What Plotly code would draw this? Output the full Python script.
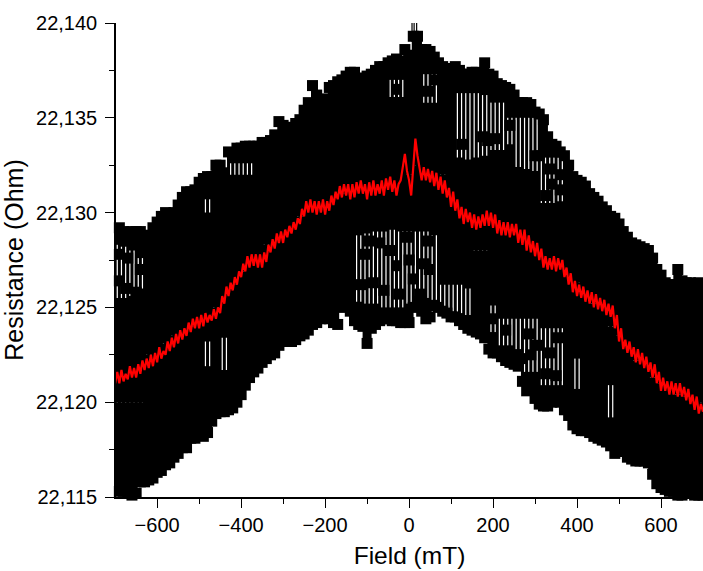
import plotly.graph_objects as go

BASE = 22000
field_grid = list(range(-700, 701, 10))
upper = [129.2,129.2,129.0,128.8,129.0,129.0,129.0,128.8,128.8,129.2,129.5,129.8,130.0,129.6,130.0,130.4,130.8,131.1,131.1,131.2,
131.6,131.8,131.9,131.9,132.5,132.5,132.1,133.2,133.0,133.4,133.4,133.5,133.5,133.5,133.5,133.7,133.7,133.8,134.1,134.8,
134.6,134.5,134.4,134.7,134.9,135.4,135.8,136.7,136.2,135.9,136.0,136.6,136.7,136.9,137.0,137.2,137.4,137.4,137.0,137.1,
137.2,137.3,137.5,137.7,137.7,137.9,138.0,138.1,138.0,138.6,138.3,139.3,139.3,138.6,138.6,138.5,138.2,137.9,137.7,137.6,
137.6,137.7,137.5,137.3,137.3,137.4,137.4,137.2,137.9,137.3,137.2,136.8,136.7,136.6,136.5,136.2,135.8,135.8,135.8,135.7,
135.3,135.2,134.9,134.0,133.6,133.5,133.2,133.0,132.5,131.9,131.7,131.6,131.4,131.0,130.8,130.6,130.3,130.1,129.8,129.7,
129.4,129.0,128.7,128.4,128.3,128.2,128.1,128.0,127.6,127.0,126.7,126.3,126.2,126.2,127.0,126.4,126.3,126.3,126.1,126.3,126.2]
lower = [115.4,115.3,115.3,115.2,115.1,115.2,115.8,115.8,115.9,116.0,116.3,116.4,116.7,116.8,117.1,117.3,117.6,117.6,118.1,118.1,
118.3,118.2,118.4,119.0,119.4,119.5,119.5,119.6,119.7,120.0,120.4,120.9,121.3,121.6,121.8,122.1,122.3,122.5,122.6,123.0,
123.2,123.2,123.2,123.3,123.5,123.6,123.8,124.1,124.2,124.4,124.6,124.4,124.2,124.1,125.0,125.1,124.8,124.3,124.1,124.0,
123.1,123.9,124.1,124.3,124.4,124.4,124.3,124.3,124.2,124.2,124.2,125.0,125.2,124.8,124.4,124.5,125.1,125.0,124.8,124.7,
124.5,124.5,124.3,124.1,123.9,123.8,123.7,123.6,123.4,122.8,122.6,122.6,122.4,122.2,122.1,122.0,121.9,121.1,120.6,120.7,
120.2,119.9,119.8,119.8,120.0,120.1,120.0,119.6,119.3,118.8,118.6,118.5,118.5,118.4,118.2,118.1,118.0,117.9,117.7,117.3,
117.6,117.4,117.1,117.0,116.9,116.9,116.9,116.8,116.2,115.7,115.5,115.4,115.3,115.3,115.1,115.1,115.2,115.2,115.1,115.1,115.1]

band_grid = list(range(-700, 701, 20))
top_band_end = [128.3,128.2,128.0,127.6,122.5,122.8,123.1,123.5,123.8,124.0,124.3,130.7,125.0,125.6,132.6,132.6,132.6,127.8,128.3,128.6,
128.9,129.4,129.8,130.3,130.4,130.5,130.8,131.0,131.2,131.4,131.4,131.4,131.5,137.0,137.0,132.0,132.5,137.3,137.3,132.0,
131.0,136.3,136.3,136.3,136.2,135.8,135.8,135.0,135.0,135.0,135.0,132.9,132.9,132.9,126.8,126.3,125.8,125.2,124.6,124.0,
123.5,122.8,122.2,121.7,121.3,121.0,120.7,120.4,120.3,120.1,120.0]
mid_band_top = [125.5,125.5,125.6,126.0,122.5,122.8,123.1,123.5,123.8,124.0,124.3,130.0,125.0,125.6,132.0,132.0,132.0,127.8,128.3,128.6,
128.9,129.4,129.8,130.3,130.4,130.5,130.8,131.0,131.2,131.4,131.4,131.4,131.5,136.1,136.1,132.0,132.5,135.8,135.8,132.0,
131.0,132.9,132.8,132.9,133.0,133.3,133.3,133.6,132.4,132.3,132.2,130.5,130.5,130.6,126.8,126.3,125.8,125.2,124.6,124.0,
123.5,122.8,122.2,121.7,121.3,121.0,120.7,120.4,120.3,120.1,120.0]
mid_band_end = [120.0,120.0,120.0,120.0,122.5,122.8,123.1,123.5,123.8,124.0,124.3,123.2,125.0,123.4,126.2,126.9,127.4,127.8,128.3,128.6,
128.9,129.4,129.8,130.3,130.4,130.5,130.8,131.0,131.2,128.8,128.9,129.0,129.0,129.1,129.0,129.0,129.0,129.0,128.8,126.2,
126.2,126.2,126.0,128.0,128.0,125.1,124.4,124.4,124.4,124.4,124.4,123.9,123.9,123.9,126.8,122.3,125.8,125.2,124.6,120.9,
123.5,122.8,122.2,121.7,121.3,121.0,120.7,120.4,120.3,120.1,120.0]
low_band_top = [120.0,120.0,120.0,120.0,122.5,122.8,123.1,123.5,123.8,124.0,124.3,121.9,125.0,121.7,126.2,126.9,127.4,127.8,128.3,128.6,
128.9,129.4,129.8,130.3,130.4,130.5,130.8,131.0,131.2,125.3,125.2,125.2,125.0,125.0,125.0,125.2,125.6,125.5,125.4,124.8,
124.7,124.7,124.6,128.0,128.0,123.7,123.0,123.0,122.8,121.6,121.6,120.9,120.9,120.9,126.8,120.7,125.8,125.2,124.6,119.2,
123.5,122.8,122.2,121.7,121.3,121.0,120.7,120.4,120.3,120.1,120.0]

interior_field = [125,175,205,240,275,310,335,360,300,187,
                  -105,-85,-70,-60,-45,-30,-25,-5,10,25,45,48,-115,-95,0,35,
                  -690,-670,-650,-675,-640,-690,
                  195,230,285,290,335,350,325,355,270,305,
                  -30,45,65,340,365,325]
interior_values = [133.6,134.0,133.9,134.6,135.4,133.0,132.3,131.2,133.0,133.8,
                   127.8,126.3,128.4,125.9,128.0,127.2,125.7,128.7,126.5,125.7,128.5,127.0,126.2,128.5,127.5,127.3,
                   126.4,127.6,125.8,126.0,127.0,127.8,
                   124.4,123.8,123.6,122.5,122.6,121.4,121.5,123.4,122.3,123.0,
                   136.5,136.4,137.0,131.5,132.0,130.9]

spike_field = [7, 12, 18]
spike_top = [140.5, 140.5, 140.5]
spike_bottom = [139.0, 139.0, 139.0]

red_field = list(range(-700, 701, 5))
red_values = [
121.0,121.6,121.0,121.7,121.1,121.5,121.2,121.9,121.3,121.8,121.3,122.0,121.5,122.2,121.7,122.3,121.8,122.5,121.9,122.6,
122.1,122.9,122.3,122.7,122.5,123.2,122.7,123.4,122.9,123.6,123.1,123.8,123.3,123.9,123.5,124.2,123.7,124.4,123.9,124.5,
123.9,124.6,124.0,124.7,124.2,124.6,124.3,124.9,124.4,125.0,124.7,125.6,125.2,126.1,125.6,126.3,125.9,126.6,126.2,126.9,
126.6,127.3,126.9,127.7,127.1,127.8,127.2,127.8,127.1,127.8,127.1,127.9,127.4,128.3,127.9,128.6,128.1,128.9,128.4,129.0,
128.4,129.1,128.7,129.3,128.9,129.5,129.1,129.7,129.4,130.2,129.8,130.6,130.0,130.7,130.0,130.6,129.9,130.6,130.0,130.7,
129.9,130.6,130.1,130.9,130.4,131.1,130.7,131.4,130.8,131.5,130.9,131.5,130.7,131.5,130.8,131.6,131.0,131.7,131.0,131.5,
130.7,131.6,130.9,131.7,130.9,131.5,131.0,131.7,130.9,131.8,131.2,131.9,131.1,131.7,130.9,131.5,131.7,132.3,133.1,132.2,
131.7,130.9,132.4,133.9,133.0,132.3,131.7,132.4,131.7,132.3,131.6,132.2,131.4,132.1,131.2,131.9,131.0,131.7,130.8,131.3,
130.3,131.1,130.1,130.7,129.7,130.3,129.4,130.2,129.5,130.0,129.2,129.9,129.1,129.8,129.2,129.9,129.3,130.1,129.3,130.0,
129.2,129.9,128.9,129.6,128.8,129.5,128.8,129.5,128.7,129.4,128.8,129.4,128.4,129.1,128.3,129.1,128.0,128.8,127.9,128.5,
127.7,128.4,127.5,128.1,127.1,127.7,127.0,127.6,127.0,127.7,126.9,127.6,127.0,127.5,126.6,127.1,126.2,126.8,125.8,126.4,
125.6,126.2,125.5,126.1,125.3,125.9,125.2,125.8,125.0,125.7,124.9,125.5,124.8,125.4,124.6,125.2,124.5,125.1,123.9,124.6,
123.2,123.9,122.8,123.3,122.6,123.2,122.4,122.9,122.1,122.8,122.0,122.6,121.8,122.4,121.6,122.1,121.3,122.0,121.0,121.6,
120.6,121.3,120.6,121.1,120.4,121.1,120.4,121.0,120.3,121.0,120.3,120.8,120.1,120.7,119.9,120.4,119.6,120.3,119.4,119.9,119.5]


def segments(xs, tops, bottoms):
    out_x, out_y = [], []
    for x, t, b in zip(xs, tops, bottoms):
        out_x += [x, x, None]
        out_y += [BASE + t, BASE + b, None]
    return out_x, out_y


upper_by_band = upper[::2]
lower_by_band = lower[::2]
fig = go.Figure()

# sweep between the two extremes, thin enough to leave the white slits
x, y = segments(field_grid, upper, lower)
fig.add_trace(go.Scatter(x=x, y=y, mode="lines", line=dict(color="black", width=3), hoverinfo="skip"))
x, y = segments(spike_field, spike_top, spike_bottom)
fig.add_trace(go.Scatter(x=x, y=y, mode="lines", line=dict(color="black", width=1.2), hoverinfo="skip"))

# densely overplotted runs of points
for tops, bottoms in ((upper_by_band, top_band_end), (mid_band_top, mid_band_end), (low_band_top, lower_by_band)):
    x, y = segments(band_grid, tops, bottoms)
    fig.add_trace(go.Scatter(x=x, y=y, mode="lines", line=dict(color="black", width=9), hoverinfo="skip"))

# square markers at the extremes and inside the sweep
fig.add_trace(go.Scatter(
    x=field_grid + field_grid + interior_field,
    y=[BASE + v for v in upper] + [BASE + v for v in lower] + [BASE + v for v in interior_values],
    mode="markers",
    marker=dict(symbol="square", size=11, color="black", line=dict(width=0)),
    cliponaxis=False,
))

fig.add_trace(go.Scatter(
    x=red_field,
    y=[BASE + v for v in red_values],
    mode="lines",
    line=dict(color="#ff0000", width=2.2),
))

axis_style = dict(
    showgrid=False, zeroline=False, showline=True, linecolor="black", linewidth=1.6,
    ticks="outside", ticklen=9, tickwidth=1.4, tickcolor="black",
    tickfont=dict(family="Liberation Sans", size=20, color="black"),
)
fig.update_layout(
    width=703, height=571, autosize=False, showlegend=False,
    margin=dict(l=116, r=0, t=23, b=74),
    paper_bgcolor="white", plot_bgcolor="white",
    xaxis=dict(
        range=[-698, 700], tick0=-600, dtick=200,
        minor=dict(ticks="outside", dtick=100, ticklen=5, tickwidth=1.2, tickcolor="black"),
        title=dict(text="Field (mT)", font=dict(family="Liberation Sans", size=24.5, color="black"), standoff=12),
        **axis_style,
    ),
    yaxis=dict(
        range=[22115, 22140], tick0=22115, dtick=5, tickformat=",d",
        minor=dict(ticks="outside", dtick=2.5, ticklen=5, tickwidth=1.2, tickcolor="black"),
        ticklabelstandoff=4,
        title=dict(text="Resistance (Ohm)", font=dict(family="Liberation Sans", size=25, color="black"), standoff=5),
        **axis_style,
    ),
)
fig.write_html("out.html", config={"displayModeBar": False},
               post_script="document.body.style.margin='0';document.body.style.overflow='hidden';")
